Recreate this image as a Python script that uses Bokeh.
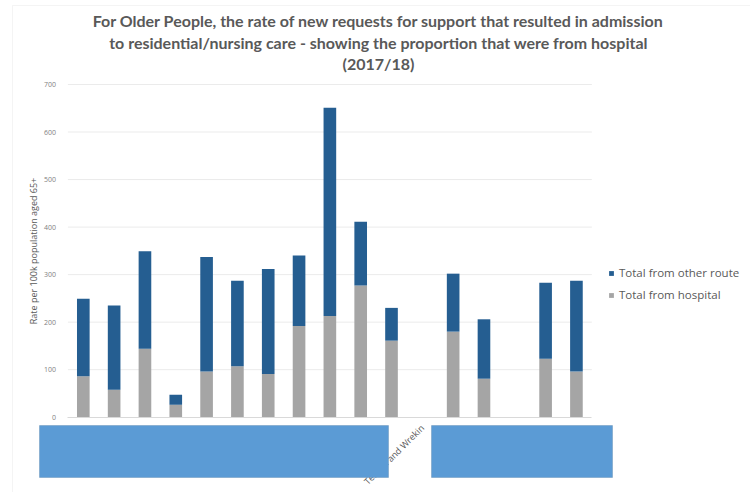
import math
from bokeh.plotting import figure
from bokeh.models import (ColumnDataSource, Range1d, FixedTicker, Legend, LegendItem,
                          Label, BoxAnnotation)
from bokeh.embed import file_html
from bokeh.resources import INLINE

# ---- data ----
areas = ["A1", "A2", "A3", "A4", "A5", "A6", "A7", "A8", "A9", "A10", "A11",
         "Telford and Wrekin", "A13", "A14", "A15", "A16", "A17"]
shown_labels = ["", "", "", "", "", "", "", "", "", "", "",
                "Telford and Wrekin", "", "", "", "", ""]
from_hospital = [86, 58, 144, 26, 96, 107, 91, 192, 213, 277, 161, 0, 180, 81, 0, 123, 96]
total_rate = [249, 235, 349, 47, 337, 287, 312, 340, 651, 411, 230, 0, 302, 206, 0, 283, 287]
from_other = [t - h for t, h in zip(total_rate, from_hospital)]
y_ticks = [0, 100, 200, 300, 400, 500, 600, 700]

title_lines = [
    "For Older People, the rate of new requests for support that resulted in admission",
    "to residential/nursing care - showing the proportion that were from hospital",
    "(2017/18)",
]

BLUE = "#255E91"
GREY = "#A5A5A5"
TXT = "#595959"

W, H = 750, 492
# layout of the plotting area inside the canvas (pixels)
SLOT = 30.82          # px per category
X0 = 67.4             # px of left edge of first category slot
PX100 = 47.53         # px per 100 units
Y0 = 416.7            # px (from top) of value 0

n = len(areas)
x_lo = -0.5 - X0 / SLOT
x_hi = -0.5 + (W - X0) / SLOT
y_lo = -(H - Y0) / PX100 * 100
y_hi = Y0 / PX100 * 100

src = ColumnDataSource(dict(x=list(range(n)), hosp=from_hospital, other=from_other))

p = figure(width=W, height=H, output_backend="svg", toolbar_location=None,
           x_range=Range1d(x_lo, x_hi), y_range=Range1d(y_lo, y_hi),
           min_border=0)
p.outline_line_color = None
p.background_fill_color = "white"
p.border_fill_color = "white"
p.xgrid.visible = False
p.ygrid.visible = False

# horizontal gridlines spanning only the category area
grid_src = ColumnDataSource(dict(y=y_ticks[1:]))
p.segment(x0=-0.5, x1=n - 0.5, y0="y", y1="y", source=grid_src,
          line_color="#EBEBEB", line_width=1)

r = p.vbar_stack(["hosp", "other"], x="x", width=0.41, source=src,
                 color=[GREY, BLUE], line_color=None)

# axes (fixed inside the canvas-wide frame)
xa = p.xaxis[0]
xa.fixed_location = 0
xa.bounds = (-0.5, n - 0.5)
xa.ticker = FixedTicker(ticks=list(range(n)))
xa.major_label_overrides = {i: lab for i, lab in enumerate(shown_labels)}
xa.major_label_orientation = math.pi / 4
xa.major_label_text_font = "Open Sans"
xa.major_label_text_font_size = "9px"
xa.major_label_text_color = TXT
xa.major_label_standoff = 3
xa.major_tick_line_color = None
xa.minor_tick_line_color = None
xa.axis_line_color = "#D9D9D9"

ya = p.yaxis[0]
ya.fixed_location = -0.5
ya.bounds = (0, 700)
ya.ticker = FixedTicker(ticks=y_ticks)
ya.major_label_text_font = "Open Sans"
ya.major_label_text_font_size = "7px"
ya.major_label_text_color = "#7F7F7F"
ya.major_label_standoff = 6
ya.major_tick_line_color = None
ya.minor_tick_line_color = None
ya.axis_line_color = None
ya.axis_label = "Rate per 100k population aged 65+"
ya.axis_label_text_font = "Open Sans"
ya.axis_label_text_font_style = "normal"
ya.axis_label_text_font_size = "9px"
ya.axis_label_text_color = TXT
ya.axis_label_standoff = 0

# legend
legend = Legend(items=[LegendItem(label="Total from other route", renderers=[r[1]]),
                       LegendItem(label="Total from hospital", renderers=[r[0]])],
                location=(608, 190), orientation="vertical",
                glyph_width=6, glyph_height=6, label_height=13, spacing=7,
                label_standoff=5, padding=0, margin=0,
                label_text_font="Open Sans", label_text_font_size="11.5px",
                label_text_color=TXT, border_line_color=None,
                background_fill_alpha=0)
p.add_layout(legend)

# title lines (screen units measured from the bottom-left)
for i, line in enumerate(title_lines):
    p.add_layout(Label(x=378, y=H - (20 + 21.5 * i), x_units="screen", y_units="screen",
                       text=line, text_align="center", text_baseline="middle",
                       text_font="Lato", text_font_style="bold", text_font_size="16px",
                       text_color=TXT))

# chart area border and the two masking boxes
p.add_layout(BoxAnnotation(left=12, right=W + 10, top=H - 5, bottom=-10,
                           left_units="screen", right_units="screen",
                           top_units="screen", bottom_units="screen",
                           fill_alpha=0, line_color="#D9D9D9", line_width=1))
for l, rgt in [(39, 388), (431, 612)]:
    p.add_layout(BoxAnnotation(left=l, right=rgt, top=H - 425, bottom=H - 477,
                               left_units="screen", right_units="screen",
                               top_units="screen", bottom_units="screen",
                               fill_color="#5B9BD5", fill_alpha=1,
                               line_color="#41719C", line_width=1))

open("out.html", "w").write(file_html(p, INLINE))
